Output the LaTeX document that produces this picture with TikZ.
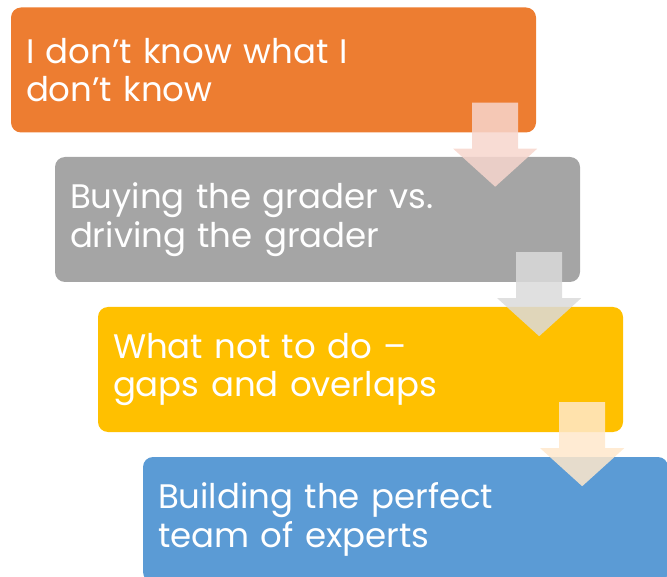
\documentclass[tikz,border=0pt]{standalone}
\usepackage{fontspec}
\setmainfont{Poppins}
\definecolor{cOrange}{HTML}{ED7D31}
\definecolor{cGray}{HTML}{A5A5A5}
\definecolor{cYellow}{HTML}{FFC000}
\definecolor{cBlue}{HTML}{5B9BD5}
\definecolor{aOrange}{HTML}{F7D6CD}
\definecolor{aGray}{HTML}{DBDBDB}
\definecolor{aYellow}{HTML}{FFE8CB}
\begin{document}
\begin{tikzpicture}[x=1pt,y=1pt,
  stepbox/.style={rounded corners=10pt, minimum width=525pt, minimum height=125pt,
    text width=495pt, inner xsep=15pt, align=left, text=white,
    font=\fontsize{34}{38.5}\selectfont},
  downarrow/.style={fill=#1, opacity=0.85, draw=none}]
\useasboundingbox (0,0) rectangle (667,-577);
\node[stepbox, fill=cOrange] (b1) at (273.5,-70) {I don’t know what I\\don’t know};
\node[stepbox, fill=cGray] (b2) at (317.5,-219.5) {Buying the grader vs.\\driving the grader};
\node[stepbox, fill=cYellow] (b3) at (360.5,-369.5) {What not to do –\\gaps and overlaps};
\node[stepbox, fill=cBlue] (b4) at (405.5,-519.5) {Building the perfect\\team of experts};
\foreach \a/\c in {b1/aOrange, b2/aGray, b3/aYellow}{
  \fill[downarrow=\c] ([shift={(-64,30)}]\a.south east) -- ++(46,0) -- ++(0,-46) -- ++(19,0)
    -- ++(-42,-38) -- ++(-42,38) -- ++(19,0) -- cycle;
}
\end{tikzpicture}
\end{document}
